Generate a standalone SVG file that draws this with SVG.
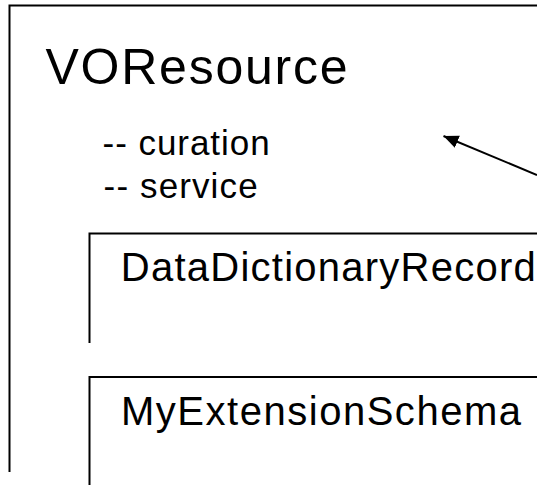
<svg xmlns="http://www.w3.org/2000/svg" width="537" height="485" viewBox="0 0 537 485">
  <style>
    .frame { fill: none; stroke: #000; stroke-width: 2; }
    .t { font-family: "Liberation Sans", Arial, sans-serif; fill: #000; }
    .conn { stroke: #000; stroke-width: 2; fill: none; }
  </style>
  <defs>
    <marker id="arrow" markerUnits="userSpaceOnUse" markerWidth="16" markerHeight="14" refX="15" refY="7" orient="auto">
      <path d="M0,0.5 L15,7 L0,13.5 z" fill="#000"/>
    </marker>
  </defs>
  <rect x="0" y="0" width="537" height="485" fill="#fff"/>

  <g id="VOResource">
    <path class="frame" d="M9.5,472 V5.5 H537"/>
    <text class="t" x="45.5" y="83.5" font-size="50" textLength="302">VOResource</text>
    <text class="t" x="102.6" y="155" font-size="35" textLength="167">-- curation</text>
    <text class="t" x="103.6" y="198" font-size="35" textLength="154">-- service</text>
  </g>

  <g id="DataDictionaryRecord">
    <path class="frame" d="M89.5,343 V233.5 H537"/>
    <text class="t" x="120.8" y="281" font-size="40" textLength="415">DataDictionaryRecord</text>
  </g>

  <g id="MyExtensionSchema">
    <path class="frame" d="M89.5,485 V377 H537"/>
    <text class="t" x="121" y="425" font-size="40" textLength="400">MyExtensionSchema</text>
  </g>

  <g id="connectors">
    <line class="conn" x1="537" y1="175" x2="443.5" y2="136" marker-end="url(#arrow)"/>
  </g>
</svg>
